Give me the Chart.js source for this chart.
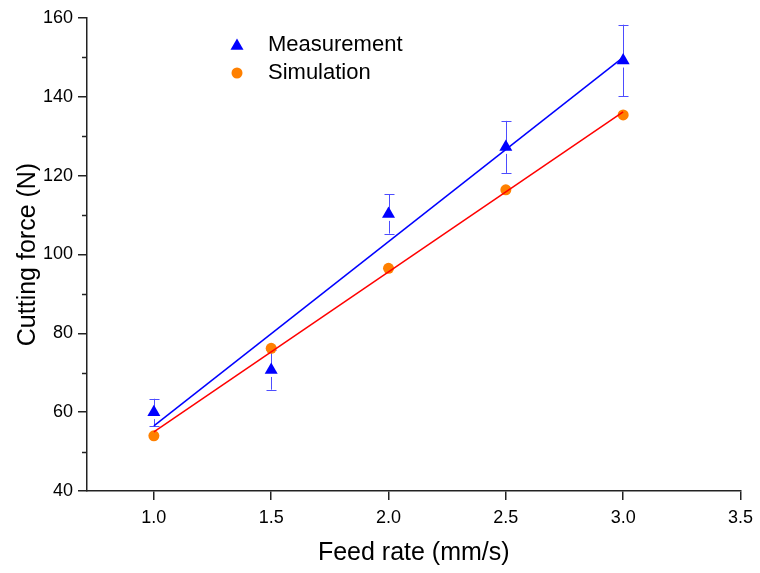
<!DOCTYPE html>
<html lang="en">
<head>
    <title>Cutting force vs feed rate</title>
    <meta charset="utf-8" />
    <script src="https://cdn.jsdelivr.net/npm/chart.js"></script>
    <style>
        html, body { margin: 0; padding: 0; background: #fff; }
        #wrap { width: 760px; height: 573px; }
    </style>
</head>
<body>
    <div id="wrap"><canvas id="chart"></canvas></div>

    <script>
        // Data
        var feedRate = [1.0, 1.5, 2.0, 2.5, 3.0];
        var measured = [60.0, 70.7, 110.3, 127.3, 149.2];
        var measuredErr = [3.4, 5.0, 5.0, 6.6, 9.1];
        var simulated = [54.0, 76.2, 96.5, 116.4, 135.4];

        // fitted lines (end points)
        var fitX = [1.0, 3.0];
        var measuredFit = [56.5, 150.0];
        var simulatedFit = [55.0, 136.2];

        var xTicks = [1.0, 1.5, 2.0, 2.5, 3.0, 3.5];
        var yMinorTicks = [50, 70, 90, 110, 130, 150];

        function pts(xs, ys) {
            return xs.map(function (x, i) { return { x: x, y: ys[i] }; });
        }

        var font = "'Liberation Sans', Arial, sans-serif";

        // error bars, drawn under the markers, with a small gap below the triangle
        var errorBars = {
            id: 'errorBars',
            beforeDatasetsDraw: function (chart) {
                var ctx = chart.ctx, xs = chart.scales.x, ys = chart.scales.y;
                ctx.save();
                ctx.strokeStyle = '#4d4dff';
                ctx.lineWidth = 1;
                feedRate.forEach(function (x, i) {
                    var px = Math.round(xs.getPixelForValue(x)) + 0.5;
                    var py = ys.getPixelForValue(measured[i]);
                    var top = ys.getPixelForValue(measured[i] + measuredErr[i]);
                    var bot = ys.getPixelForValue(measured[i] - measuredErr[i]);
                    ctx.beginPath();
                    ctx.moveTo(px, top); ctx.lineTo(px, py);
                    ctx.moveTo(px, py + 7); ctx.lineTo(px, bot);
                    ctx.moveTo(px - 5, Math.round(top) + 0.5); ctx.lineTo(px + 5, Math.round(top) + 0.5);
                    ctx.moveTo(px - 5, Math.round(bot) + 0.5); ctx.lineTo(px + 5, Math.round(bot) + 0.5);
                    ctx.stroke();
                });
                ctx.restore();
            }
        };

        var minorTicks = {
            id: 'minorTicks',
            afterDraw: function (chart) {
                var ctx = chart.ctx, ys = chart.scales.y, left = chart.chartArea.left;
                ctx.save();
                ctx.strokeStyle = '#222';
                ctx.lineWidth = 1.5;
                yMinorTicks.forEach(function (v) {
                    var py = Math.round(ys.getPixelForValue(v)) + 0.5;
                    ctx.beginPath();
                    ctx.moveTo(left - 5, py); ctx.lineTo(left, py);
                    ctx.stroke();
                });
                ctx.restore();
            }
        };

        var legendBox = {
            id: 'legendBox',
            afterDraw: function (chart) {
                var ctx = chart.ctx;
                var items = [
                    { label: 'Measurement', style: 'triangle', color: '#0000ff', r: 7.5, y: 45 },
                    { label: 'Simulation', style: 'circle', color: '#ff8000', r: 5.5, y: 73 }
                ];
                ctx.save();
                ctx.font = '22px ' + font;
                ctx.textBaseline = 'middle';
                items.forEach(function (it) {
                    ctx.fillStyle = it.color;
                    ctx.strokeStyle = it.color;
                    Chart.helpers.drawPoint(ctx, { pointStyle: it.style, radius: it.r, borderWidth: 0 }, 237, it.y + (it.style === 'triangle' ? 1 : 0));
                    ctx.fillStyle = '#000';
                    ctx.fillText(it.label, 268, it.y);
                });
                ctx.restore();
            }
        };

        new Chart(document.getElementById('chart'), {
            type: 'scatter',
            data: {
                datasets: [
                    {
                        label: 'Measurement fit',
                        data: pts(fitX, measuredFit),
                        showLine: true,
                        borderColor: '#0000ff',
                        borderWidth: 1.5,
                        pointRadius: 0
                    },
                    {
                        label: 'Simulation fit',
                        data: pts(fitX, simulatedFit),
                        showLine: true,
                        borderColor: '#ff0000',
                        borderWidth: 1.5,
                        pointRadius: 0
                    },
                    {
                        label: 'Measurement',
                        data: pts(feedRate, measured),
                        pointStyle: 'triangle',
                        pointRadius: 7.5,
                        backgroundColor: '#0000ff',
                        borderColor: '#0000ff',
                        borderWidth: 0
                    },
                    {
                        label: 'Simulation',
                        data: pts(feedRate, simulated),
                        pointStyle: 'circle',
                        pointRadius: 5.5,
                        backgroundColor: '#ff8000',
                        borderColor: '#ff8000',
                        borderWidth: 0
                    }
                ]
            },
            options: {
                responsive: true,
                maintainAspectRatio: false,
                animation: false,
                layout: { padding: { left: 0, right: 19, top: 18, bottom: 0 } },
                plugins: {
                    legend: { display: false },
                    tooltip: { enabled: false }
                },
                scales: {
                    x: {
                        type: 'linear',
                        min: 0.715,
                        max: 3.5,
                        afterBuildTicks: function (scale) {
                            scale.ticks = xTicks.map(function (v) { return { value: v }; });
                        },
                        afterFit: function (scale) { scale.height = 82; },
                        ticks: {
                            color: '#000',
                            padding: 7,
                            font: { family: font, size: 18 },
                            callback: function (v) { return Number(v).toFixed(1); }
                        },
                        grid: { drawOnChartArea: false, tickLength: 9, color: '#222', lineWidth: 1.5 },
                        border: { display: true, color: '#222', width: 1.5 },
                        title: {
                            display: true,
                            text: 'Feed rate (mm/s)',
                            color: '#000',
                            font: { family: font, size: 25 },
                            padding: { top: 0, bottom: 5 }
                        }
                    },
                    y: {
                        min: 40,
                        max: 160,
                        afterFit: function (scale) { scale.width = 87; },
                        ticks: {
                            stepSize: 20,
                            color: '#000',
                            padding: 5,
                            font: { family: font, size: 18 }
                        },
                        grid: { drawOnChartArea: false, tickLength: 9, color: '#222', lineWidth: 1.5 },
                        border: { display: true, color: '#222', width: 1.5 },
                        title: {
                            display: true,
                            text: 'Cutting force (N)',
                            color: '#000',
                            font: { family: font, size: 25 },
                            padding: { top: 13, bottom: 0 }
                        }
                    }
                }
            },
            plugins: [errorBars, minorTicks, legendBox]
        });
    </script>
</body>
</html>
